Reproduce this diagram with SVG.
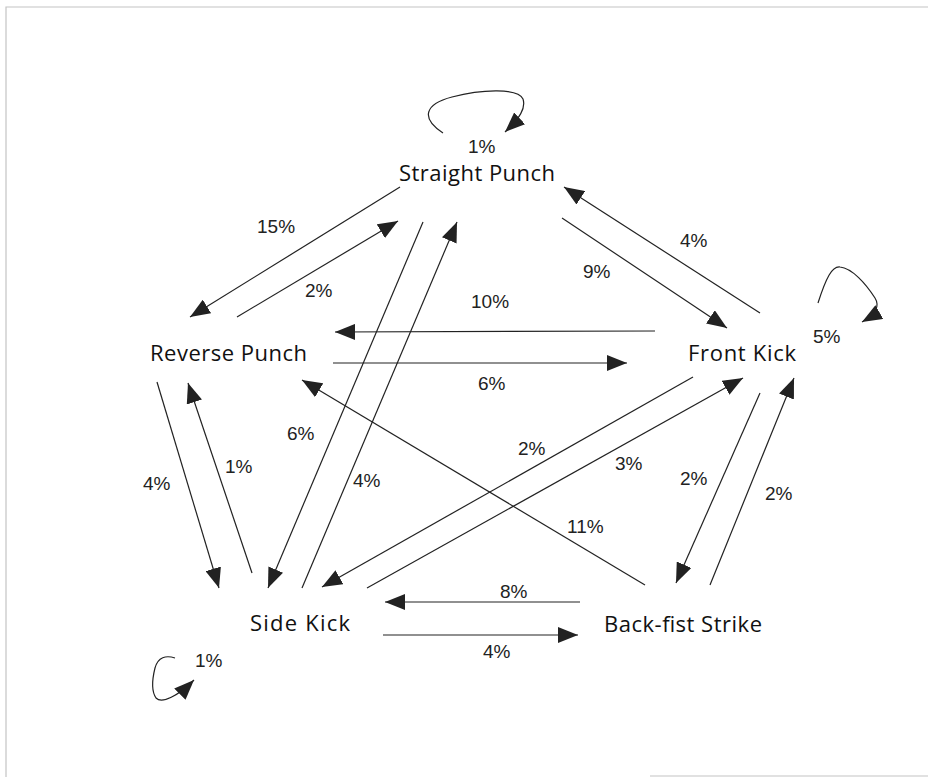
<svg xmlns="http://www.w3.org/2000/svg" width="928" height="777" viewBox="0 0 928 777">
<defs>
<style>
.node{font-family:"Open Sans","Noto Sans",sans-serif;font-size:22px;fill:#111}
.pct{font-family:"Liberation Sans",Arial,sans-serif;font-size:19px;fill:#222}
.edge{stroke:#222;stroke-width:1.2;fill:none}
.arr{marker-end:url(#ah)}
.frame{stroke:#c4c4c4;stroke-width:1.2;fill:none}
</style>
<marker id="ah" markerUnits="userSpaceOnUse" markerWidth="22" markerHeight="16" refX="20" refY="8" orient="auto">
<path d="M0,0 L20,8 L0,16 Z" fill="#222"/>
</marker>
</defs>
<rect width="928" height="777" fill="#fff"/>
<path class="frame" d="M6,777 V7 H928"/>
<path class="frame" d="M650,776 H928"/>

<g id="connectors">
<!-- self loops -->
<path class="edge arr" d="M443,133 C420,118 425,104 452,97 C482,89 518,88 523,99 C526,108 520,118 505,132"/>
<path class="edge arr" d="M818,303 C826,278 832,266 840,267 C852,268 866,284 875,298 C880,306 876,314 862,322"/>
<path class="edge arr" d="M175,658 C166,655 158,657 155,668 C152,680 152,692 156,698 C162,704 178,696 194,680"/>
<!-- SP <-> RP -->
<path class="edge arr" d="M400,187 L190,317"/>
<path class="edge arr" d="M237,317 L398,221"/>
<!-- SP <-> SK -->
<path class="edge arr" d="M423,222 L268,588"/>
<path class="edge arr" d="M302,588 L457,222"/>
<!-- SP <-> FK -->
<path class="edge arr" d="M562,218 L727,328"/>
<path class="edge arr" d="M760,313 L564,187"/>
<!-- RP <-> FK -->
<path class="edge arr" d="M655,331 L335,332"/>
<path class="edge arr" d="M333,363 L627,363"/>
<!-- RP <-> SK -->
<path class="edge arr" d="M157,382 L219,588"/>
<path class="edge arr" d="M252,573 L188,383"/>
<!-- SK <-> FK -->
<path class="edge arr" d="M693,377 L322,587"/>
<path class="edge arr" d="M367,588 L743,378"/>
<!-- BFS -> RP -->
<path class="edge arr" d="M645,585 L302,380"/>
<!-- FK <-> BFS -->
<path class="edge arr" d="M760,393 L676,583"/>
<path class="edge arr" d="M710,585 L794,378"/>
<!-- SK <-> BFS -->
<path class="edge arr" d="M580,602 L385,602"/>
<path class="edge arr" d="M383,635 L578,635"/>
</g>

<g id="labels">
<text class="pct" x="468" y="153">1%</text>
<text class="pct" x="257" y="233">15%</text>
<text class="pct" x="305" y="297">2%</text>
<text class="pct" x="471" y="308">10%</text>
<text class="pct" x="478" y="390">6%</text>
<text class="pct" x="583" y="278">9%</text>
<text class="pct" x="680" y="247">4%</text>
<text class="pct" x="813" y="343">5%</text>
<text class="pct" x="287" y="440">6%</text>
<text class="pct" x="225" y="473">1%</text>
<text class="pct" x="143" y="490">4%</text>
<text class="pct" x="353" y="487">4%</text>
<text class="pct" x="518" y="455">2%</text>
<text class="pct" x="615" y="470">3%</text>
<text class="pct" x="680" y="485">2%</text>
<text class="pct" x="765" y="500">2%</text>
<text class="pct" x="567" y="533">11%</text>
<text class="pct" x="500" y="598">8%</text>
<text class="pct" x="483" y="658">4%</text>
<text class="pct" x="195" y="667">1%</text>
</g>

<g id="straight-punch"><text class="node" x="399" y="181" textLength="156">Straight Punch</text></g>
<g id="reverse-punch"><text class="node" x="150" y="361" textLength="157">Reverse Punch</text></g>
<g id="front-kick"><text class="node" x="688" y="361" textLength="108">Front Kick</text></g>
<g id="side-kick"><text class="node" x="250" y="631" textLength="100">Side Kick</text></g>
<g id="back-fist-strike"><text class="node" x="604" y="632" textLength="158">Back-fist Strike</text></g>
</svg>
